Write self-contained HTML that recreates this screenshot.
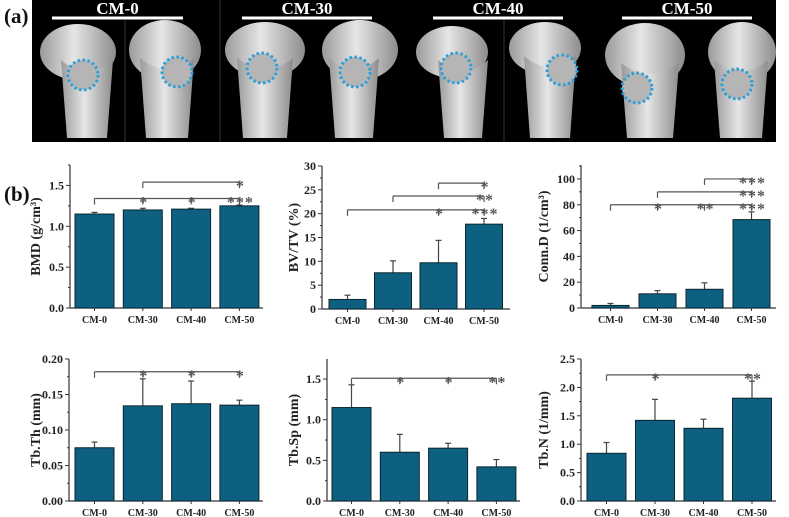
<!DOCTYPE html>
<html><head><meta charset="utf-8">
<style>
body{margin:0;background:#fff;width:789px;height:517px;overflow:hidden}
svg{display:block}
text{font-family:"Liberation Serif",serif;font-weight:bold}
</style></head>
<body>
<svg id="fig" width="789" height="517" viewBox="0 0 789 517">
  <text x="4" y="23" font-size="21" fill="#111">(a)</text>
  <text x="4" y="201" font-size="21" fill="#111">(b)</text>
  <g id="photo">
    <rect x="32" y="0" width="744" height="142" fill="#000"/>
  </g>
  <g id="charts"></g>
</svg>
<script>
const NS='http://www.w3.org/2000/svg';
function mk(tag,attrs,parent){const e=document.createElementNS(NS,tag);for(const k in attrs)e.setAttribute(k,attrs[k]);parent.appendChild(e);return e;}

// ---------- photo panel ----------
const photo=document.getElementById('photo');
const groupNames=['CM-0','CM-30','CM-40','CM-50'];
const groupLineX=[[52,183],[242,372],[433,563],[622,752]];
mk('line',{x1:125,y1:20,x2:125,y2:142,stroke:'#333','stroke-width':1},photo);
mk('line',{x1:220,y1:0,x2:220,y2:142,stroke:'#333','stroke-width':1},photo);
mk('line',{x1:504,y1:20,x2:504,y2:142,stroke:'#333','stroke-width':1},photo);
groupNames.forEach((n,i)=>{
  const g=groupLineX[i];
  const l=mk('line',{x1:g[0],y1:18,x2:g[1],y2:18,stroke:'#fff','stroke-width':3},photo);
  
  
  const t=mk('text',{x:(g[0]+g[1])/2,y:14,'font-size':17,fill:'#fff','text-anchor':'middle'},photo);
  t.textContent=n;
  
  
});
const defs=mk('defs',{},photo);
const gr=mk('linearGradient',{id:'bone',x1:0,y1:0,x2:1,y2:0},defs);
mk('stop',{offset:'0','stop-color':'#9a9a9a'},gr);
mk('stop',{offset:'0.45','stop-color':'#e6e6e6'},gr);
mk('stop',{offset:'1','stop-color':'#8c8c8c'},gr);
// bones: [headCx, headCy, headRx, headRy, shaftX, shaftW, circleCx, circleCy]
const bones=[[78,52,38,28,67,40,83,75],[165,50,36,30,146,42,177,72],[265,50,40,28,243,44,262,68],[360,50,38,30,335,38,355,72],
[452,52,36,26,444,38,456,68],[545,48,36,26,530,40,562,70],[645,55,40,32,627,46,637,88],[742,52,34,30,720,42,737,84]];
bones.forEach((b,i)=>{
  const g=mk('g',{},photo);
  
  
  mk('ellipse',{cx:b[0],cy:b[1],rx:b[2],ry:b[3],fill:'url(#bone)'},g);
  mk('path',{d:`M${b[4]-6},${b[1]+8} Q${b[4]+b[5]/2},${b[1]+30} ${b[4]+b[5]+6},${b[1]+8} L${b[4]+b[5]},138 L${b[4]},138 Z`,fill:'url(#bone)'},g);
  const c=mk('circle',{cx:b[6],cy:b[7],r:15,fill:'#b5b5b5',stroke:'#2b9fd8','stroke-width':3,'stroke-dasharray':'2.5 2.5'},g);
  
  
});

// ---------- chart data ----------
const categories=['CM-0','CM-30','CM-40','CM-50'];
const bmdValues=[1.15,1.20,1.21,1.25];
const bmdErrors=[0.02,0.02,0.01,0.01];
const bvtvValues=[2.0,7.6,9.7,17.8];
const bvtvErrors=[0.9,2.5,4.7,1.2];
const conndValues=[2.0,11.0,14.5,68.5];
const conndErrors=[1.5,2.5,5.0,6.0];
const tbthValues=[0.075,0.134,0.137,0.135];
const tbthErrors=[0.008,0.038,0.032,0.007];
const tbspValues=[1.15,0.60,0.65,0.42];
const tbspErrors=[0.28,0.22,0.06,0.09];
const tbnValues=[0.84,1.42,1.28,1.81];
const tbnErrors=[0.19,0.37,0.16,0.30];
const bmdTicks=['0.0','0.5','1.0','1.5'];
const bvtvTicks=['0','5','10','15','20','25','30'];
const conndTicks=['0','20','40','60','80','100'];
const tbthTicks=['0.00','0.05','0.10','0.15','0.20'];
const tbspTicks=['0.0','0.5','1.0','1.5'];
const tbnTicks=['0.0','0.5','1.0','1.5','2.0','2.5'];
// brackets: [fromIndex, toIndex, level, stars per category]
const bmdBrackets=[[0,3,1.34,['','*','*','***']],[1,3,1.54,['','','','*']]];
const bvtvBrackets=[[0,3,20.8,['','','*','***']],[1,3,23.7,['','','','**']],[2,3,26.4,['','','','*']]];
const conndBrackets=[[0,3,80,['','*','**','***']],[1,3,90,['','','','***']],[2,3,100,['','','','***']]];
const tbthBrackets=[[0,3,0.182,['','*','*','*']]];
const tbspBrackets=[[0,3,1.51,['','*','*','**']]];
const tbnBrackets=[[0,3,2.22,['','*','','**']]];

const charts=[
 {name:'bmd',title:'BMD (g/cm³)',vals:bmdValues,errs:bmdErrors,ticks:bmdTicks,br:bmdBrackets,ax:70,axEnd:263,y0:308,yTop:165,max:1.75,bx:75,step:48.3,bw:39,titleX:40},
 {name:'bv-tv',title:'BV/TV (%)',vals:bvtvValues,errs:bvtvErrors,ticks:bvtvTicks,br:bvtvBrackets,ax:322,axEnd:510,y0:309,yTop:166,max:30,bx:329,step:45.5,bw:37,titleX:298},
 {name:'conn-d',title:'Conn.D (1/cm³)',vals:conndValues,errs:conndErrors,ticks:conndTicks,br:conndBrackets,ax:581,axEnd:776,y0:308,yTop:165,max:110.8,bx:592,step:47,bw:37,titleX:548},
 {name:'tb-th',title:'Tb.Th (mm)',vals:tbthValues,errs:tbthErrors,ticks:tbthTicks,br:tbthBrackets,ax:69,axEnd:263,y0:501,yTop:359,max:0.2,bx:75,step:48.3,bw:39,titleX:40},
 {name:'tb-sp',title:'Tb.Sp (mm)',vals:tbspValues,errs:tbspErrors,ticks:tbspTicks,br:tbspBrackets,ax:327,axEnd:520,y0:501,yTop:359,max:1.747,bx:332,step:48.3,bw:39,titleX:298},
 {name:'tb-n',title:'Tb.N (1/mm)',vals:tbnValues,errs:tbnErrors,ticks:tbnTicks,br:tbnBrackets,ax:581,axEnd:776,y0:501,yTop:359,max:2.5,bx:587,step:48.5,bw:39,titleX:548}
];
const root=document.getElementById('charts');
charts.forEach(c=>{
  const g=mk('g',{},root);
  
  
  const y=v=>c.y0-(v/c.max)*(c.y0-c.yTop);
  const cx=i=>c.bx+i*c.step+c.bw/2;
  const ya=mk('line',{x1:c.ax,y1:c.yTop,x2:c.ax,y2:c.y0,stroke:'#333','stroke-width':1.2},g);
  
  
  const xa=mk('line',{x1:c.ax,y1:c.y0,x2:c.axEnd,y2:c.y0,stroke:'#333','stroke-width':1.2},g);
  
  
  const tstep=parseFloat(c.ticks[1]);
  c.ticks.forEach((t,k)=>{
    const v=parseFloat(t);const py=y(v);
    mk('line',{x1:c.ax-4,y1:py,x2:c.ax,y2:py,stroke:'#333','stroke-width':1},g);
    const mv=v+tstep/2;
    if(mv<=c.max+1e-9) mk('line',{x1:c.ax-2,y1:y(mv),x2:c.ax,y2:y(mv),stroke:'#333','stroke-width':1},g);
    const tx=mk('text',{x:c.ax-6,y:py+4,'font-size':12,'text-anchor':'end',fill:'#222'},g);
    tx.textContent=t;
    
    
  });
  const tt=mk('text',{x:c.titleX,y:(c.y0+c.yTop)/2,'font-size':14,'text-anchor':'middle',fill:'#222',transform:`rotate(-90 ${c.titleX} ${(c.y0+c.yTop)/2})`},g);
  tt.textContent=c.title;
  
  
  c.vals.forEach((v,i)=>{
    const x=c.bx+i*c.step;
    const top=y(v);
    const eb=y(v+c.errs[i]);
    const el=mk('line',{x1:cx(i),y1:top,x2:cx(i),y2:eb,stroke:'#444','stroke-width':1.2},g);
    
    
    mk('line',{x1:cx(i)-3,y1:eb,x2:cx(i)+3,y2:eb,stroke:'#444','stroke-width':1.2},g);
    const r=mk('rect',{x:x,y:top,width:c.bw,height:c.y0-top,fill:'#0e6080',stroke:'#0a2630','stroke-width':1},g);
    
    
    mk('line',{x1:cx(i),y1:c.y0,x2:cx(i),y2:c.y0+3,stroke:'#333','stroke-width':1},g);
    const lb=mk('text',{x:cx(i),y:c.y0+15,'font-size':10,'text-anchor':'middle',fill:'#222'},g);
    lb.textContent=categories[i];
    
    
  });
  c.br.forEach(b=>{
    const py=y(b[2]);
    const bg=mk('g',{},g);
    
    
    mk('line',{x1:cx(b[0]),y1:py,x2:cx(b[1]),y2:py,stroke:'#555','stroke-width':1.2},bg);
    mk('line',{x1:cx(b[0]),y1:py,x2:cx(b[0]),y2:py+6,stroke:'#555','stroke-width':1.2},bg);
    b[3].forEach((s,i)=>{
      if(!s)return;
      mk('line',{x1:cx(i),y1:py,x2:cx(i),y2:py+6,stroke:'#555','stroke-width':1.2},bg);
      const st=mk('text',{x:cx(i)+1,y:py+9,'font-size':16,'font-weight':'normal','text-anchor':'middle',fill:'#555','letter-spacing':'1'},bg);
      st.textContent=s;
      
      
    });
  });
});
</script>
</body></html>
